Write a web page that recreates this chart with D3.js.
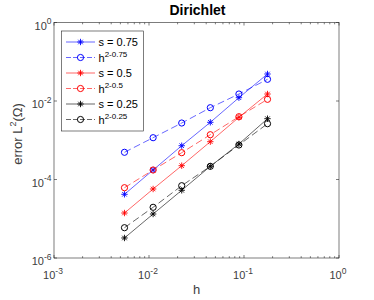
<!DOCTYPE html>
<html>
<head>
<meta charset="utf-8">
<script src="https://cdn.jsdelivr.net/npm/d3@7"></script>
<style>
body { margin: 0; background: #fff; }
text { font-family: "Liberation Sans", Arial, sans-serif; }
</style>
</head>
<body>
<div id="chart"></div>
<script>
'use strict';

// mesh sizes h = sqrt(2)/2^k
const hs = [0.00552, 0.01105, 0.0221, 0.0442, 0.0884, 0.1768];

// log10 of the error
const s075 = [-4.377, -3.758, -3.139, -2.543, -1.916, -1.312];
const r075 = [-3.307, -2.935, -2.561, -2.171, -1.822, -1.447];
const s050 = [-4.854, -4.242, -3.648, -3.037, -2.415, -1.822];
const r050 = [-4.209, -3.758, -3.317, -2.859, -2.400, -1.957];
const s025 = [-5.490, -4.879, -4.275, -3.664, -3.096, -2.451];
const r025 = [-5.228, -4.708, -4.158, -3.664, -3.121, -2.578];

const series = [
	{name: 's = 0.75', sup: null, ys: s075, color: '#0000ff', mark: 'star', dash: null},
	{name: 'h', sup: '2-0.75', ys: r075, color: '#0000ff', mark: 'circle', dash: '7,3.5'},
	{name: 's = 0.5', sup: null, ys: s050, color: '#ff0000', mark: 'star', dash: null},
	{name: 'h', sup: '2-0.5', ys: r050, color: '#ff0000', mark: 'circle', dash: '7,3.5'},
	{name: 's = 0.25', sup: null, ys: s025, color: '#000000', mark: 'star', dash: null},
	{name: 'h', sup: '2-0.25', ys: r025, color: '#000000', mark: 'circle', dash: '7,3.5'}
];

const xTicks = [1e-3, 1e-2, 1e-1, 1e0];
const yTicks = [1e-6, 1e-4, 1e-2, 1e0];

const W = 374, H = 300;
const pl = 54, pr = 339, pt = 22.5, pb = 258;
const axisColor = '#262626';
const tickColor = '#404040';

let svg = d3.select('#chart').append('svg')
	.attr('width', W)
	.attr('height', H);

let x = d3.scaleLog().domain([1e-3, 1]).range([pl, pr]);
let y = d3.scaleLog().domain([1e-6, 1]).range([pb, pt]);

// tick label: 10 with superscript exponent
function powLabel(sel, v) {
	let e = Math.round(Math.log10(v));
	sel.append('tspan').text('10');
	sel.append('tspan').attr('dy', -5.5).attr('font-size', 8.5).text(e);
}

// x ticks (major + minor), bottom and top, inward
let minor = [];
for (let d = -3; d < 0; ++d) {
	for (let k = 2; k <= 9; ++k) minor.push(k*Math.pow(10, d));
}
let tk = svg.append('g').attr('stroke', axisColor).attr('stroke-width', 0.6);
xTicks.forEach(function(v) {
	tk.append('line').attr('x1', x(v)).attr('x2', x(v)).attr('y1', pb).attr('y2', pb - 3);
	tk.append('line').attr('x1', x(v)).attr('x2', x(v)).attr('y1', pt).attr('y2', pt + 3);
});
minor.forEach(function(v) {
	tk.append('line').attr('x1', x(v)).attr('x2', x(v)).attr('y1', pb).attr('y2', pb - 1.8);
	tk.append('line').attr('x1', x(v)).attr('x2', x(v)).attr('y1', pt).attr('y2', pt + 1.8);
});
yTicks.forEach(function(v) {
	tk.append('line').attr('x1', pl).attr('x2', pl + 3).attr('y1', y(v)).attr('y2', y(v));
	tk.append('line').attr('x1', pr).attr('x2', pr - 3).attr('y1', y(v)).attr('y2', y(v));
});

xTicks.forEach(function(v) {
	let t = svg.append('text')
		.attr('x', x(v) - 1)
		.attr('y', pb + 21)
		.attr('text-anchor', 'middle')
		.attr('font-size', 11)
		.attr('fill', tickColor);
	powLabel(t, v);
});
yTicks.forEach(function(v) {
	let t = svg.append('text')
		.attr('x', pl - 2.5)
		.attr('y', y(v) + 7)
		.attr('text-anchor', 'end')
		.attr('font-size', 11)
		.attr('fill', tickColor);
	powLabel(t, v);
});

// series
let line = d3.line()
	.x(function(d) { return x(d[0]); })
	.y(function(d) { return y(Math.pow(10, d[1])); });

function drawMark(g, kind, cx, cy, color) {
	if (kind === 'circle') {
		g.append('circle').attr('cx', cx).attr('cy', cy).attr('r', 3.1)
			.attr('fill', 'none').attr('stroke', color).attr('stroke-width', 1);
	}
	else {
		let r = 3.2;
		let p = 'M' + (cx - r) + ',' + cy + 'L' + (cx + r) + ',' + cy +
			'M' + cx + ',' + (cy - r) + 'L' + cx + ',' + (cy + r) +
			'M' + (cx - r*0.7) + ',' + (cy - r*0.7) + 'L' + (cx + r*0.7) + ',' + (cy + r*0.7) +
			'M' + (cx - r*0.7) + ',' + (cy + r*0.7) + 'L' + (cx + r*0.7) + ',' + (cy - r*0.7);
		g.append('path').attr('d', p).attr('stroke', color).attr('stroke-width', 0.9).attr('fill', 'none');
	}
}

let plot = svg.append('g');
series.forEach(function(s) {
	let pts = hs.map(function(h, i) { return [h, s.ys[i]]; });
	plot.append('path')
		.attr('d', line(pts))
		.attr('fill', 'none')
		.attr('stroke', s.color)
		.attr('stroke-width', 0.6)
		.attr('stroke-dasharray', s.dash);
	pts.forEach(function(p) {
		drawMark(plot, s.mark, x(p[0]), y(Math.pow(10, p[1])), s.color);
	});
});

// axes box
svg.append('rect')
	.attr('x', pl).attr('y', pt)
	.attr('width', pr - pl).attr('height', pb - pt)
	.attr('fill', 'none')
	.attr('stroke', axisColor)
	.attr('stroke-width', 0.6);

// legend
let lg = svg.append('g');
lg.append('rect')
	.attr('x', 61.5).attr('y', 31)
	.attr('width', 82).attr('height', 100)
	.attr('fill', '#fff')
	.attr('stroke', axisColor)
	.attr('stroke-width', 0.6);
series.forEach(function(s, i) {
	let ly = 42 + i*15.5;
	lg.append('line')
		.attr('x1', 66).attr('x2', 95)
		.attr('y1', ly).attr('y2', ly)
		.attr('stroke', s.color)
		.attr('stroke-width', 0.6)
		.attr('stroke-dasharray', s.dash ? '5,2' : null);
	drawMark(lg, s.mark, 80.5, ly, s.color);
	let t = lg.append('text')
		.attr('x', 98.5)
		.attr('y', ly + 4)
		.attr('font-size', 11)
		.attr('fill', '#000');
	t.append('tspan').text(s.name);
	if (s.sup) {
		t.append('tspan').attr('dy', -5).attr('font-size', 8).text(s.sup);
	}
});

// title and axis labels
svg.append('text')
	.attr('x', (pl + pr)/2 + 1)
	.attr('y', 15)
	.attr('text-anchor', 'middle')
	.attr('font-size', 14)
	.attr('font-weight', 'bold')
	.text('Dirichlet');

svg.append('text')
	.attr('x', (pl + pr)/2)
	.attr('y', 294)
	.attr('text-anchor', 'middle')
	.attr('font-size', 13)
	.attr('fill', tickColor)
	.text('h');

let yl = svg.append('text')
	.attr('transform', 'translate(21.5,134) rotate(-90)')
	.attr('text-anchor', 'middle')
	.attr('font-size', 13)
	.attr('fill', tickColor);
yl.append('tspan').text('error L');
yl.append('tspan').attr('dy', -6).attr('font-size', 9).text('2');
yl.append('tspan').attr('dy', 6).text('(Ω)');
</script>
</body>
</html>
